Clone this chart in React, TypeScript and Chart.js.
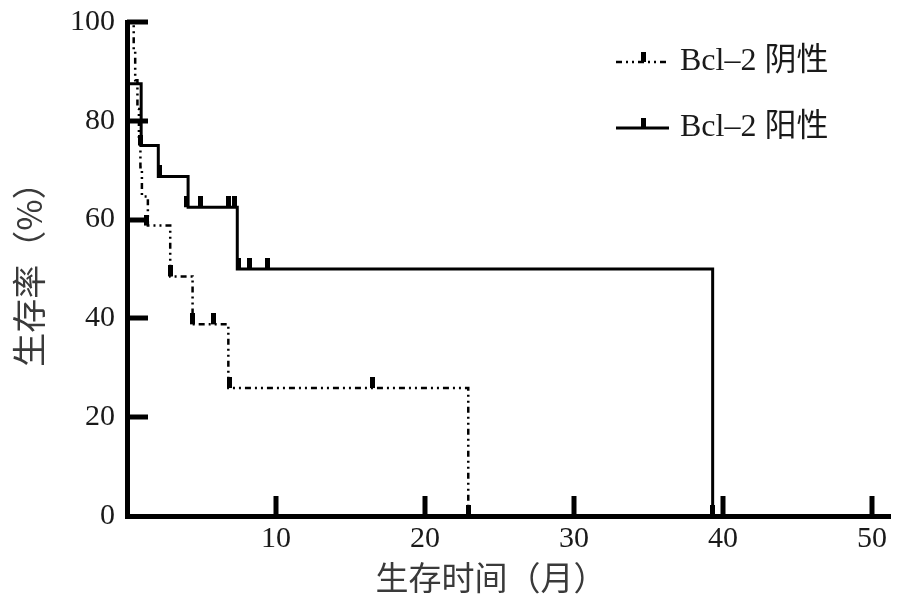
import React, { useEffect, useRef } from "react";
import { Chart, registerables } from "chart.js";

Chart.register(...registerables);

// Kaplan–Meier step points (time in months, survival %)
const negTimes = [0, 0.45, 0.55, 0.7, 0.8, 0.9, 1.0, 1.4, 2.9, 4.4, 6.8, 22.9];
const negSurv = [100, 94.1, 88.2, 82.4, 76.5, 70.6, 64.7, 58.8, 48.5, 38.8, 25.9, 0];
const negCensorTimes = [1.3, 2.9, 4.4, 5.8, 6.9, 16.5, 22.9];
const negCensorSurv = [58.8, 48.5, 38.8, 38.8, 25.9, 25.9, 0];

const posTimes = [0, 0.1, 0.95, 2.1, 4.1, 7.4, 39.3];
const posSurv = [100, 87.5, 75, 68.75, 62.5, 50, 0];
const posCensorTimes = [0.9, 2.2, 4.0, 4.9, 6.8, 7.2, 7.5, 8.2, 9.4, 39.3];
const posCensorSurv = [75, 68.75, 62.5, 62.5, 62.5, 62.5, 50, 50, 50, 0];

const legendLabels = ["Bcl\u20132 阴性", "Bcl\u20132 阳性"];
const xTitle = "生存时间（月）";
const yTitle = "生存率（%）";

const NEG_DASH = [6, 4, 2, 4, 2, 4];

function makeCensorMark(): HTMLCanvasElement {
  const c = document.createElement("canvas");
  c.width = 5;
  c.height = 22;
  const g = c.getContext("2d")!;
  g.fillStyle = "#000";
  g.fillRect(0, 0, 5, 11);
  return c;
}

const decorPlugin = {
  id: "decor",
  afterDraw(chart: any) {
    const { ctx, chartArea, scales } = chart;
    const xs = scales.x;
    const ys = scales.y;
    ctx.save();
    ctx.strokeStyle = "#000";
    // inward y ticks
    ctx.lineWidth = 5;
    ys.ticks.forEach((t: any) => {
      if (t.value === 0) return;
      const py = Math.round(ys.getPixelForValue(t.value));
      ctx.beginPath();
      ctx.moveTo(chartArea.left, py);
      ctx.lineTo(chartArea.left + 21, py);
      ctx.stroke();
    });
    // inward x ticks
    ctx.lineWidth = 5;
    xs.ticks.forEach((t: any) => {
      if (t.value === 0) return;
      const px = Math.round(xs.getPixelForValue(t.value));
      ctx.beginPath();
      ctx.moveTo(px, chartArea.bottom);
      ctx.lineTo(px, chartArea.bottom - 20);
      ctx.stroke();
    });

    // axis titles
    ctx.fillStyle = "#3a3a3a";
    ctx.font = "33px 'Noto Sans CJK SC'";
    ctx.textAlign = "center";
    ctx.textBaseline = "middle";
    ctx.fillText(xTitle, 491, 577);
    ctx.save();
    ctx.translate(29, 266);
    ctx.rotate(-Math.PI / 2);
    ctx.font = "34px 'Noto Sans CJK SC'";
    ctx.fillText(yTitle, 0, 0);
    ctx.restore();

    // legend
    const items = [
      { y: 62, dash: NEG_DASH, lw: 2.5 },
      { y: 128, dash: [] as number[], lw: 3 },
    ];
    items.forEach((it, i) => {
      ctx.strokeStyle = "#000";
      ctx.lineWidth = it.lw;
      ctx.setLineDash(it.dash);
      ctx.beginPath();
      ctx.moveTo(616, it.y);
      ctx.lineTo(669, it.y);
      ctx.stroke();
      ctx.setLineDash([]);
      ctx.fillStyle = "#000";
      ctx.fillRect(641, it.y - 10, 5, 10);
      ctx.fillStyle = "#1a1a1a";
      ctx.font = "32px 'Liberation Serif', 'Noto Sans CJK SC'";
      ctx.textAlign = "left";
      ctx.textBaseline = "middle";
      ctx.fillText(legendLabels[i], 680, it.y);
    });
    ctx.restore();
  },
};

export default function App() {
  const ref = useRef<HTMLCanvasElement>(null);
  useEffect(() => {
    if (!ref.current) return;
    const mark = makeCensorMark();
    const toPts = (xs: number[], ys: number[]) => xs.map((x, i) => ({ x, y: ys[i] }));
    const chart = new Chart(ref.current, {
      type: "line",
      data: {
        datasets: [
          {
            label: legendLabels[0],
            data: toPts(negTimes, negSurv),
            stepped: true,
            borderColor: "#000",
            borderWidth: 2.5,
            borderDash: NEG_DASH,
            pointRadius: 0,
            fill: false,
          },
          {
            label: legendLabels[1],
            data: toPts(posTimes, posSurv),
            stepped: true,
            borderColor: "#000",
            borderWidth: 3,
            pointRadius: 0,
            fill: false,
          },
          {
            type: "scatter",
            label: "neg censored",
            data: toPts(negCensorTimes, negCensorSurv),
            pointStyle: mark,
            pointRadius: 6,
            showLine: false,
          } as any,
          {
            type: "scatter",
            label: "pos censored",
            data: toPts(posCensorTimes, posCensorSurv),
            pointStyle: mark,
            pointRadius: 6,
            showLine: false,
          } as any,
        ],
      },
      options: {
        animation: false,
        responsive: false,
        layout: { padding: { left: 0, top: 22, right: 14, bottom: 0 } },
        plugins: { legend: { display: false }, tooltip: { enabled: false } },
        scales: {
          x: {
            type: "linear",
            min: 0,
            max: 51.2,
            grid: { display: false, drawTicks: false },
            border: { display: true, color: "#000", width: 5 },
            ticks: {
              stepSize: 10,
              includeBounds: false,
              padding: 5,
              color: "#1a1a1a",
              font: { family: "'Liberation Serif'", size: 30 },
              callback: (v: any) => (v === 0 ? "" : String(v)),
            },
            afterFit: (s: any) => {
              s.height = 84;
              s.paddingLeft = 0;
              s.paddingRight = 0;
            },
          },
          y: {
            type: "linear",
            min: 0,
            max: 100,
            grid: { display: false, drawTicks: false },
            border: { display: true, color: "#000", width: 5 },
            ticks: {
              stepSize: 20,
              padding: 12,
              color: "#1a1a1a",
              font: { family: "'Liberation Serif'", size: 30 },
            },
            afterFit: (s: any) => {
              s.width = 127;
              s.paddingTop = 0;
              s.paddingBottom = 0;
            },
          },
        },
      },
      plugins: [decorPlugin],
    });
    return () => chart.destroy();
  }, []);
  return (
    <div style={{ position: "fixed", left: 0, top: 0, width: 904, height: 600, background: "#fff" }}>
      <canvas ref={ref} width={904} height={600} style={{ width: 904, height: 600 }} />
    </div>
  );
}
